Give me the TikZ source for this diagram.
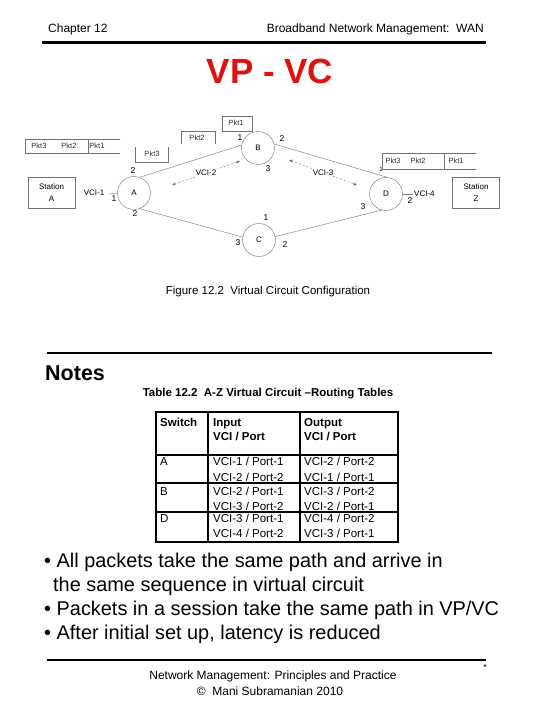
\documentclass[tikz,border=0pt]{standalone}
\usepackage{fontspec}
\setmainfont{Liberation Sans}
\usetikzlibrary{arrows.meta}
\definecolor{titlered}{RGB}{222,18,18}
\definecolor{linegray}{RGB}{115,115,115}

\tikzset{
  sw/.style={circle, draw=linegray, thin, minimum size=33pt, inner sep=0pt, font=\fontsize{8}{9}\selectfont},
  portno/.style={inner sep=0pt, font=\fontsize{8.5}{9}\selectfont},
  pkt/.style={inner sep=0pt, font=\fontsize{7.5}{8}\selectfont, text=black!80},
  vcilbl/.style={inner sep=1pt, font=\fontsize{8}{9}\selectfont},
  station/.style={draw=linegray, minimum width=47pt, minimum height=31pt, align=center, inner sep=0pt, font=\fontsize{8}{12}\selectfont},
  link/.style={draw=linegray, thin},
  vcipath/.style={link, dash pattern=on 2pt off 2pt, {Stealth[length=4pt,width=3pt]}-{Stealth[length=4pt,width=3pt]}},
  cell/.style={anchor=base west, inner sep=0pt, font=\fontsize{11.5}{14}\selectfont},
  hdr/.style={anchor=base west, inner sep=0pt, font=\fontsize{11.5}{14}\selectfont\bfseries},
  bullet/.style={anchor=west, inner sep=0pt, font=\fontsize{19.9}{24}\selectfont},
}

\begin{document}
\begin{tikzpicture}[x=1pt,y=-1pt]
\useasboundingbox (0,0) rectangle (540,720);

% page head
\node[anchor=west, inner sep=0pt, font=\fontsize{12}{14}\selectfont] (chap) at (48,29) {Chapter 12};
\node[anchor=east, inner sep=0pt, font=\fontsize{12}{14}\selectfont] (topic) at (484,29) {Broadband Network Management:\ \ WAN};
\draw[line width=3pt] (42,42) -- (486,42);
\node[text=titlered, font=\fontsize{35}{40}\selectfont\bfseries] (title) at (270,71) {VP - VC};

% switches and stations
\node[sw] (A) at (134,193) {A};
\node[sw] (B) at (258,148) {B};
\node[sw] (C) at (259,240) {C};
\node[sw] (D) at (386,194) {D};
\node[station] (stA) at (51.5,192.5) {Station\\A};
\node[station] (stZ) at (476,192.5) {Station\\Z};

\draw[link] (A.70) -- (B.170);
\draw[link] (B.14) -- (D.85);
\draw[link] (A.-70) -- (C.170);
\draw[link] (C.12) -- (D.-105);

\coordinate (a1) at (109,194);
\coordinate (d2) at (413,194);
\draw[link] (a1) -- (A.west);
\draw[link] (D.east) -- (d2);
\node[vcilbl] (v1) at (94,193) {VCI-1};
\node[vcilbl, anchor=west] (v4) at (d2) {VCI-4};

\coordinate (v2a) at (172,185);
\coordinate (v2b) at (240,161);
\draw[vcipath] (v2a) -- node[vcilbl, fill=white] (v2) {VCI-2} (v2b);
\coordinate (v3a) at (289,160);
\coordinate (v3b) at (357,185);
\draw[vcipath] (v3a) -- node[vcilbl, fill=white] (v3) {VCI-3} (v3b);

% port numbers
\node[portno] (pa2) at (133,171) {2};
\node[portno] (pa1) at (114,199) {1};
\node[portno] (pa3) at (135,214) {2};
\node[portno] (pb1) at (240,138) {1};
\node[portno] (pb2) at (282,139) {2};
\node[portno] (pb3) at (268,169) {3};
\node[portno] (pc1) at (266,218) {1};
\node[portno] (pc3) at (238,243) {3};
\node[portno] (pc2) at (285,245) {2};
\node[portno, font=\fontsize{6}{7}\selectfont] (pd1) at (381,169) {1};
\node[portno] (pd2) at (410,201) {2};
\node[portno] (pd3) at (363,207) {3};

% packets
\draw[link] (120,139) -- (25,139) -- (25,153) -- (120,153);
\draw[link] (88,139) -- (88,153);
\node[pkt] (l3) at (39,146) {Pkt3};
\node[pkt] (l2) at (69,146) {Pkt2};
\node[pkt] (l1) at (97,146) {Pkt1};

\draw[link] (476,153) -- (382,153) -- (382,169) -- (476,169);
\draw[link] (444,153) -- (444,169);
\node[pkt] (r3) at (393,161) {Pkt3};
\node[pkt] (r2) at (418,161) {Pkt2};
\node[pkt] (r1) at (456,161) {Pkt1};

\draw[link] (135,147) -- (135,162) -- (168,162) -- (168,147);
\node[pkt] (m3) at (152,154) {Pkt3};
\draw[link] (181,144) -- (181,131) -- (215,131) -- (215,144);
\node[pkt] (m2) at (197,138) {Pkt2};
\draw[link] (222,116) rectangle (252,131);
\node[pkt] (m1) at (236,123) {Pkt1};

\node[font=\fontsize{11.5}{13}\selectfont] (fig) at (268,292) {Figure 12.2\ \ Virtual Circuit Configuration};

% notes
\draw[line width=2.5pt] (47,353) -- (492,353);
\node[anchor=west, inner sep=0pt, font=\fontsize{21.5}{24}\selectfont\bfseries] (notes) at (45,373) {Notes};
\node[font=\fontsize{11.5}{13}\selectfont\bfseries] (tabcap) at (268,394) {Table 12.2\ \ A-Z Virtual Circuit \textendash Routing Tables};

% routing table
\draw[line width=1.2pt] (156,412) rectangle (398,542);
\draw[line width=1.2pt] (208,412) -- (208,542);
\draw[line width=1.2pt] (300,412) -- (300,542);
\draw[line width=1.2pt] (156,455) -- (398,455);
\draw[line width=1.2pt] (156,483) -- (398,483);
\draw[line width=1.2pt] (156,512) -- (398,512);

\node[hdr] (hsw) at (160,426) {Switch};
\node[hdr] (hin) at (213,426) {Input};
\node[hdr] (hin2) at (213,440) {VCI / Port};
\node[hdr] (hout) at (304,426) {Output};
\node[hdr] (hout2) at (304,440) {VCI / Port};

\node[cell] (swa) at (160,465) {A};
\node[cell] (ina1) at (213,465) {VCI-1 / Port-1};
\node[cell] (ina2) at (213,481) {VCI-2 / Port-2};
\node[cell] (outa1) at (304,465) {VCI-2 / Port-2};
\node[cell] (outa2) at (304,481) {VCI-1 / Port-1};
\node[cell] (swb) at (160,495) {B};
\node[cell] (inb1) at (213,495) {VCI-2 / Port-1};
\node[cell] (inb2) at (213,510) {VCI-3 / Port-2};
\node[cell] (outb1) at (304,495) {VCI-3 / Port-2};
\node[cell] (outb2) at (304,510) {VCI-2 / Port-1};
\node[cell] (swd) at (160,522) {D};
\node[cell] (ind1) at (213,522) {VCI-3 / Port-1};
\node[cell] (ind2) at (213,537) {VCI-4 / Port-2};
\node[cell] (outd1) at (304,522) {VCI-4 / Port-2};
\node[cell] (outd2) at (304,537) {VCI-3 / Port-1};

% bullets
\node[bullet] (b1) at (44,562) {• All packets take the same path and arrive in};
\node[bullet] (b1b) at (53,586) {the same sequence in virtual circuit};
\node[bullet] (b2) at (44,610) {• Packets in a session take the same path in VP/VC};
\node[bullet] (b3) at (44,634) {• After initial set up, latency is reduced};

% page foot
\draw[line width=2pt] (47,660) -- (486,660);
\node[inner sep=0pt, font=\fontsize{9}{10}\selectfont] (star) at (485,667) {*};
\node[font=\fontsize{12}{14}\selectfont] (foot1) at (273,676) {Network Management: Principles and Practice};
\node[font=\fontsize{12}{14}\selectfont] (foot2) at (270,691) {©\ \ Mani Subramanian 2010};
\end{tikzpicture}
\end{document}
